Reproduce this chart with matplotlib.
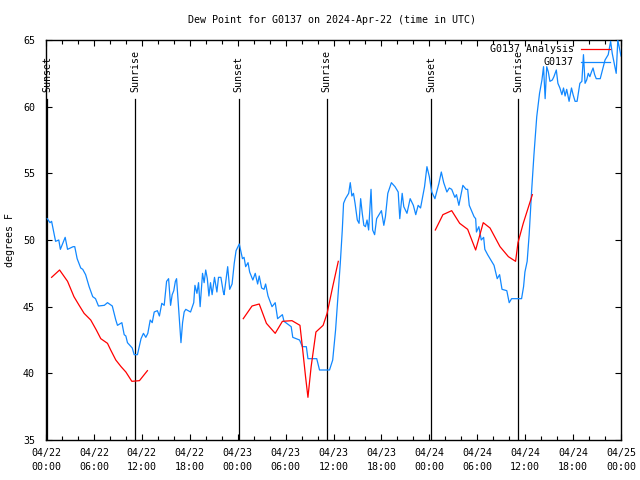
import numpy as np
import matplotlib
matplotlib.use("Agg")
import matplotlib.pyplot as plt
from matplotlib.ticker import MultipleLocator

# ---- data (hours since 2024-04-22 00:00 UTC) ----
obs_hours = [0.16, 0.5, 0.7, 1.2, 1.6, 1.8, 2.4, 2.7, 3.4, 3.6, 3.9, 4.35, 4.6, 4.96, 5.4, 5.85, 6.2, 6.57,
             7.3, 7.7, 8.3, 8.74, 8.95, 9.5, 9.79, 10.0, 10.2, 10.8, 11.04, 11.45, 11.9, 12.2, 12.5, 12.75,
             13.05, 13.3, 13.55, 13.95, 14.2, 14.5, 14.8, 15.1, 15.35, 15.6, 15.8, 16.0, 16.2, 16.35, 16.6,
             16.9, 17.1, 17.3, 17.5, 18.1, 18.5, 18.65, 18.9, 19.1, 19.3, 19.6, 19.8, 20.0, 20.2, 20.4, 20.6,
             20.8, 21.1, 21.4, 21.6, 21.9, 22.2, 22.3, 22.75, 23.0, 23.3, 23.57, 23.8, 24.2, 24.6, 24.8, 25.0,
             25.3, 25.5, 25.9, 26.2, 26.5, 26.7, 27.0, 27.3, 27.5, 27.8, 28.3, 28.7, 29.0, 29.6, 29.8, 30.7,
             30.9, 31.75, 32.1, 32.6, 32.8, 33.9, 34.25, 35.5, 35.9, 36.26, 36.55, 36.85, 37.1, 37.26, 37.5,
             37.9, 38.1, 38.3, 38.5, 38.7, 38.98, 39.2, 39.4, 39.6, 39.8, 40.0, 40.2, 40.4, 40.7, 40.9, 41.15,
             41.4, 41.7, 42.0, 42.3, 42.5, 42.8, 43.25, 43.7, 44.1, 44.3, 44.6, 44.8, 45.2, 45.6, 46.0, 46.3,
             46.6, 46.9, 47.4, 47.7, 48.0, 48.3, 48.7, 49.2, 49.5, 49.8, 50.2, 50.5, 50.8, 51.2, 51.4, 51.7,
             52.2, 52.6, 52.8, 53.0, 53.6, 53.8, 53.9, 54.2, 54.5, 54.8, 54.95, 55.3, 56.1, 56.5, 56.8, 57.1,
             57.7, 58.0, 58.3, 59.55, 59.8, 59.97, 60.25, 60.5, 60.8, 61.1, 61.45, 61.8, 62.1, 62.3, 62.5,
             62.7, 62.9, 63.1, 63.4, 63.6, 63.9, 64.1, 64.35, 64.6, 64.8, 65.0, 65.2, 65.5, 65.8, 66.0, 66.25,
             66.5, 66.85, 67.1, 67.3, 67.5, 67.7, 67.9, 68.1, 68.3, 68.5, 68.7, 68.9, 69.4, 70.0, 70.4, 70.7,
             70.9, 71.4, 71.6, 71.9, 72.0]
obs_values = [51.6, 51.3, 51.4, 49.9, 50.0, 49.3, 50.2, 49.3, 49.5, 49.5, 48.6, 47.9, 47.8, 47.4, 46.5, 45.75,
              45.6, 45.05, 45.1, 45.3, 45.05, 44.0, 43.6, 43.8, 42.9, 42.8, 42.3, 41.9, 41.4, 41.4, 42.6, 43.0,
              42.7, 43.0, 44.0, 43.8, 44.6, 44.7, 44.3, 45.25, 45.1, 46.9, 47.1, 45.1, 45.9, 46.2, 46.9, 47.1,
              44.9, 42.3, 43.8, 44.6, 44.8, 44.6, 45.3, 46.6, 46.0, 46.8, 45.0, 47.5, 46.8, 47.75, 47.1, 45.8,
              46.8, 45.9, 47.2, 46.1, 47.2, 47.2, 46.1, 45.9, 48.0, 46.3, 46.7, 48.25, 49.2, 49.7, 48.6, 48.7,
              48.0, 48.3, 47.6, 47.0, 47.5, 46.7, 47.3, 46.4, 46.3, 46.7, 45.8, 45.0, 45.3, 44.1, 44.4, 43.9,
              43.5, 42.7, 42.5, 42.0, 42.0, 41.1, 41.1, 40.25, 40.25, 41.0, 43.25, 45.75, 48.25, 50.75, 52.75,
              53.1, 53.5, 54.3, 53.3, 53.5, 52.75, 51.5, 51.25, 53.1, 52.0, 51.1, 51.0, 51.5, 50.75, 53.8, 50.75,
              50.4, 51.6, 51.9, 52.2, 51.1, 51.75, 53.5, 54.3, 54.0, 53.6, 51.6, 53.5, 52.5, 52.0, 53.1, 52.6,
              51.9, 52.6, 52.4, 54.0, 55.5, 54.75, 53.6, 53.1, 54.25, 55.1, 54.3, 53.6, 53.9, 53.8, 53.2, 53.4,
              52.6, 54.1, 53.8, 53.8, 52.6, 51.75, 51.6, 50.6, 51.0, 50.0, 50.2, 49.3, 48.9, 48.1, 47.1, 47.4,
              46.3, 46.2, 45.3, 45.6, 45.6, 46.5, 47.6, 48.4, 50.4, 53.6, 56.4, 59.25, 61.0, 62.0, 63.0, 60.6,
              63.0, 62.6, 61.9, 62.0, 62.25, 62.75, 61.75, 61.4, 60.9, 61.4, 60.8, 61.3, 60.4, 61.4, 60.9, 60.4,
              60.4, 61.75, 61.9, 63.9, 61.75, 62.0, 62.5, 62.25, 62.6, 62.9, 62.4, 62.1, 62.1, 63.5, 63.9, 64.9,
              64.0, 62.5, 65.0, 64.1, 63.8]

ana_hours = [0.7, 1.7, 2.7, 3.5, 4.15, 4.77, 5.6, 6.3, 6.86, 7.7, 8.1, 8.74, 9.4, 10.0, 10.75, 11.7, 12.7,
             np.nan,
             24.7, 25.8, 26.7, 27.6, 28.7, 29.6, 30.8, 31.8, 32.1, 32.5, 32.8, 33.2, 33.8, 34.7, 35.2, 35.9, 36.6,
             np.nan,
             48.75, 49.7, 50.8, 51.8, 52.8, 53.8, 54.75, 55.6, 56.85, 57.9, 58.8, 59.1, 59.76, 60.9]
ana_values = [47.2, 47.75, 46.9, 45.75, 45.1, 44.5, 44.0, 43.25, 42.6, 42.25, 41.75, 41.0, 40.5, 40.1, 39.4,
              39.45, 40.2,
              np.nan,
              44.1, 45.05, 45.2, 43.75, 43.0, 43.9, 43.95, 43.6, 42.0, 39.75, 38.2, 40.5, 43.1, 43.6, 44.5,
              46.5, 48.4,
              np.nan,
              50.75, 51.9, 52.2, 51.25, 50.8, 49.25, 51.3, 50.9, 49.5, 48.75, 48.4, 49.8, 51.25, 53.4]

event_hours = [0.15, 11.15, 24.12, 35.15, 48.22, 59.12]
event_labels = ["Sunset", "Sunrise", "Sunset", "Sunrise", "Sunset", "Sunrise"]

xtick_hours = [0, 6, 12, 18, 24, 30, 36, 42, 48, 54, 60, 66, 72]
xtick_labels = ["04/22\n00:00", "04/22\n06:00", "04/22\n12:00", "04/22\n18:00",
                "04/23\n00:00", "04/23\n06:00", "04/23\n12:00", "04/23\n18:00",
                "04/24\n00:00", "04/24\n06:00", "04/24\n12:00", "04/24\n18:00",
                "04/25\n00:00"]
ytick_values = [35, 40, 45, 50, 55, 60, 65]

title = "Dew Point for G0137 on 2024-Apr-22 (time in UTC)"
ylabel = "degrees F"
series_names = ["G0137 Analysis", "G0137"]
series_colors = ["#ff0000", "#1188ff"]

# ---- figure ----
plt.rcParams['font.family'] = ['DejaVu Sans Mono']
FS = 7.2
fig = plt.figure(figsize=(6.4, 4.8), dpi=100)
ax = fig.add_axes([46 / 640, 40 / 480, 575 / 640, 400 / 480])

ax.set_xlim(0, 72)
ax.set_ylim(35, 65)

ax.plot(obs_hours, obs_values, color=series_colors[1], lw=0.9, zorder=3)
ax.plot(ana_hours, ana_values, color=series_colors[0], lw=0.9, zorder=4)

event_top = 60.55
for h, lab in zip(event_hours, event_labels):
    ax.plot([h, h], [35, event_top], color='black', lw=0.9, zorder=2)
    ax.text(h, 61.1, lab, rotation=90, ha='center', va='bottom', fontsize=FS, zorder=5)

ax.set_xticks(xtick_hours)
ax.set_xticklabels(xtick_labels, fontsize=FS, linespacing=1.45)
ax.xaxis.set_minor_locator(MultipleLocator(2))
ax.set_yticks(ytick_values)
ax.set_yticklabels([str(v) for v in ytick_values], fontsize=FS)
ax.tick_params(axis='both', which='major', direction='in', length=4, width=0.8,
               top=True, right=True)
ax.tick_params(axis='both', which='minor', direction='in', length=3, width=0.8,
               top=True, right=True)
ax.tick_params(axis='x', which='major', pad=6)
ax.tick_params(axis='y', which='major', pad=8)
for s in ax.spines.values():
    s.set_linewidth(1.0)

ax.set_ylabel(ylabel, fontsize=FS, labelpad=6)
fig.text(332 / 640, 1 - 20 / 480, title, ha='center', va='center', fontsize=FS)

# key (gnuplot style, top right)
ky = [0.977, 0.944]
for name, col, y in zip(series_names, series_colors, ky):
    ax.text(0.918, y, name, transform=ax.transAxes, ha='right', va='center', fontsize=FS, zorder=6)
    ax.plot([0.931, 0.981], [y, y], transform=ax.transAxes, color=col, lw=0.9, zorder=6, clip_on=False)

fig.savefig("out.png", dpi=100)
